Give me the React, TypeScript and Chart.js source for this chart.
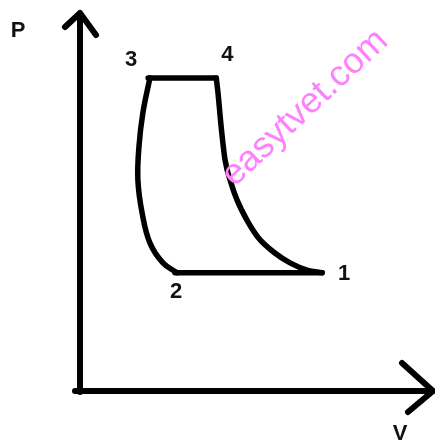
import React, { useEffect, useRef } from "react";
import { Chart, registerables } from "chart.js";

Chart.register(...registerables);

// Axis ranges (arbitrary units)
const V_MAX = 10;
const P_MAX = 10;

// Cycle processes (V, P)
const V_12 = [6.86, 2.69];
const P_12 = [3.13, 3.13];
const V_23 = [2.75, 2.35, 1.98, 1.76, 1.64, 1.67, 1.78, 1.98];
const P_23 = [3.13, 3.39, 3.92, 4.71, 5.58, 6.46, 7.35, 8.28];
const V_34 = [1.93, 3.86];
const P_34 = [8.28, 8.28];
const V_41 = [3.86, 3.91, 4.0, 4.11, 4.28, 4.45, 4.73, 5.04, 5.52, 5.95, 6.43, 6.86];
const P_41 = [8.28, 7.88, 6.98, 6.11, 5.5, 5.05, 4.52, 4.07, 3.65, 3.39, 3.2, 3.13];

// State point labels
const STATE_LABELS = ["1", "2", "3", "4"];
const AXIS_LABELS = ["P", "V"];
const WATERMARK = "easytvet.com";

const zip = (xs: number[], ys: number[]) => xs.map((x, i) => ({ x, y: ys[i] }));

export default function App() {
  const ref = useRef<HTMLCanvasElement | null>(null);

  useEffect(() => {
    document.body.style.margin = "0";
    const canvas = ref.current!;
    const lineStyle = {
      borderColor: "#000",
      borderWidth: 5.5,
      pointRadius: 0,
      showLine: true,
      tension: 0.4,
      borderCapStyle: "round" as const,
      borderJoinStyle: "round" as const,
      clip: false as const,
      fill: false,
    };

    const decor = {
      id: "decor",
      beforeDatasetsDraw(chart: any) {
        const ctx = chart.ctx as CanvasRenderingContext2D;
        const xs = chart.scales.x;
        const ys = chart.scales.y;
        const ox = xs.getPixelForValue(0);
        const oy = ys.getPixelForValue(0);
        const tx = xs.getPixelForValue(V_MAX);
        const ty = ys.getPixelForValue(P_MAX);
        ctx.save();
        ctx.strokeStyle = "#000";
        ctx.lineWidth = 6;
        ctx.lineCap = "round";
        ctx.lineJoin = "round";
        // P axis
        ctx.beginPath();
        ctx.moveTo(ox, oy + 1);
        ctx.lineTo(ox, ty);
        ctx.moveTo(ox - 15, ty + 14);
        ctx.lineTo(ox, ty);
        ctx.lineTo(ox + 16, ty + 22);
        ctx.stroke();
        // V axis
        ctx.beginPath();
        ctx.moveTo(ox - 5, oy);
        ctx.lineTo(tx, oy);
        ctx.moveTo(tx - 31, oy - 28);
        ctx.lineTo(tx, oy);
        ctx.lineTo(tx - 25, oy + 21);
        ctx.stroke();
        ctx.restore();
      },
      afterDraw(chart: any) {
        const ctx = chart.ctx as CanvasRenderingContext2D;
        const xs = chart.scales.x;
        const ys = chart.scales.y;
        const px = (v: number) => xs.getPixelForValue(v);
        const py = (p: number) => ys.getPixelForValue(p);
        ctx.save();
        ctx.fillStyle = "#111";
        ctx.font = "bold 22px 'Liberation Sans', Arial, sans-serif";
        ctx.textAlign = "center";
        ctx.textBaseline = "middle";
        // state labels
        ctx.fillText(STATE_LABELS[0], px(V_12[0]) + 22, py(P_12[0]) + 1);
        ctx.fillText(STATE_LABELS[1], px(V_23[0]) - 1, py(P_23[0]) + 19);
        ctx.fillText(STATE_LABELS[2], px(V_34[0]) - 17, py(P_34[0]) - 18);
        ctx.fillText(STATE_LABELS[3], px(V_41[0]) + 11, py(P_41[0]) - 23);
        // axis labels
        ctx.fillText(AXIS_LABELS[0], px(0) - 62, py(P_MAX) + 18);
        ctx.fillText(AXIS_LABELS[1], px(V_MAX) - 33, py(0) + 43);
        // watermark
        ctx.translate(305, 108);
        ctx.rotate((-43 * Math.PI) / 180);
        ctx.fillStyle = "#ff80ff";
        ctx.font = "36px 'Liberation Sans', Arial, sans-serif";
        ctx.fillText(WATERMARK, 0, 0);
        ctx.restore();
      },
    };

    const chart = new Chart(canvas, {
      type: "scatter",
      data: {
        datasets: [
          { label: "1-2", data: zip(V_12, P_12), ...lineStyle, tension: 0 },
          { label: "2-3", data: zip(V_23, P_23), ...lineStyle },
          { label: "3-4", data: zip(V_34, P_34), ...lineStyle, tension: 0 },
          { label: "4-1", data: zip(V_41, P_41), ...lineStyle, cubicInterpolationMode: "monotone" as const },
        ],
      },
      options: {
        animation: false,
        responsive: true,
        maintainAspectRatio: false,
        layout: { padding: { left: 80, right: 2, top: 13, bottom: 53 } },
        plugins: {
          legend: { display: false },
          tooltip: { enabled: false },
        },
        scales: {
          x: { type: "linear", min: 0, max: V_MAX, display: false },
          y: { type: "linear", min: 0, max: P_MAX, display: false },
        },
      },
      plugins: [decor],
    });
    return () => chart.destroy();
  }, []);

  return (
    <div style={{ position: "fixed", left: 0, top: 0, width: 435, height: 444, background: "#fff" }}>
      <canvas ref={ref} />
    </div>
  );
}
